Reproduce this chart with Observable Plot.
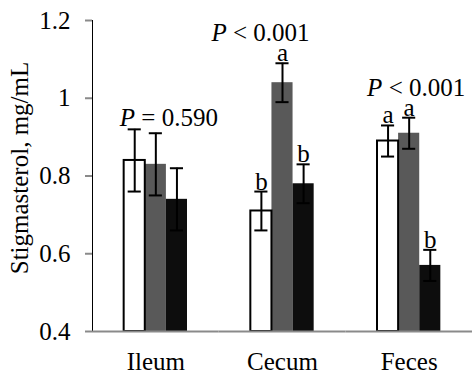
<!DOCTYPE html>
<html>
<head>
<meta charset="utf-8">
<script src="https://cdn.jsdelivr.net/npm/d3@7"></script>
<script src="https://cdn.jsdelivr.net/npm/@observablehq/plot@0.6"></script>
<style>
  html, body { margin: 0; padding: 0; background: #fff; }
</style>
</head>
<body>
<div id="chart"></div>
<script>
// ---- data ----
const sites = ["Ileum", "Cecum", "Feces"];
const treatments = ["Treatment 1", "Treatment 2", "Treatment 3"];
const ileumMeans = [0.84, 0.83, 0.74];
const cecumMeans = [0.71, 1.04, 0.78];
const fecesMeans = [0.89, 0.91, 0.57];
const ileumSE = [0.08, 0.08, 0.08];
const cecumSE = [0.05, 0.05, 0.05];
const fecesSE = [0.04, 0.04, 0.04];
const ileumLetters = ["", "", ""];
const cecumLetters = ["b", "a", "b"];
const fecesLetters = ["a", "a", "b"];
const pLabels = ["P = 0.590", "P < 0.001", "P < 0.001"];
const yTicks = [0.4, 0.6, 0.8, 1, 1.2];
const yLabel = "Stigmasterol, mg/mL";

// ---- styling ----
const barColors = ["#ffffff", "#595959", "#0d0d0d"];
const axisGray = "#8a8a8a";
const pDx = [13, -22, 7];

// ---- table ----
const meansBy = [ileumMeans, cecumMeans, fecesMeans];
const seBy = [ileumSE, cecumSE, fecesSE];
const lettersBy = [ileumLetters, cecumLetters, fecesLetters];
const rows = sites.flatMap((s, i) => treatments.map((t, j) => ({
  site: s, trt: t, mean: meansBy[i][j], se: seBy[i][j], letter: lettersBy[i][j]
})));
const pRows = sites.map((s, i) => ({
  site: s,
  label: pLabels[i],
  top: d3.max(meansBy[i].map((m, j) => m + seBy[i][j])),
  hasLetters: lettersBy[i].some(l => l)
}));

const pMarks = pRows.map((d, i) => Plot.text([d], {
  fx: "site",
  y: r => r.top + (r.hasLetters ? 0.077 : 0.028),
  text: "label",
  dx: pDx[i],
  fontSize: 25
}));

const chart = Plot.plot({
  width: 472,
  height: 378,
  marginLeft: 92,
  marginRight: 0,
  marginTop: 20,
  marginBottom: 47,
  style: { fontFamily: "'Liberation Serif', 'Times New Roman', serif", fontSize: "25px", background: "#fff", color: "#000" },
  fx: { domain: sites, padding: 0, round: false, axis: "bottom", label: null, tickSize: 0, tickPadding: 21 },
  x: { domain: treatments, paddingInner: 0, paddingOuter: 1.5, round: false, axis: null },
  y: { domain: [0.4, 1.2], ticks: yTicks, tickFormat: d => String(d), tickSize: 7, tickPadding: 15, line: true,
       label: yLabel, labelArrow: "none", labelAnchor: "center", labelOffset: 82 },
  color: { domain: treatments, range: barColors },
  marks: [
    Plot.barY(rows, { fx: "site", x: "trt", y1: 0.4, y2: "mean", fill: "trt" }),
    Plot.barY(rows.filter(d => d.trt === treatments[0]), { fx: "site", x: "trt", y1: 0.4, y2: "mean", fill: "#fff", stroke: "#000", strokeWidth: 2 }),
    Plot.ruleX(rows, { fx: "site", x: "trt", y1: d => d.mean - d.se, y2: d => d.mean + d.se, stroke: "#000", strokeWidth: 2 }),
    Plot.tickY(rows, { fx: "site", x: "trt", y: d => d.mean + d.se, stroke: "#000", strokeWidth: 2, inset: 4 }),
    Plot.tickY(rows, { fx: "site", x: "trt", y: d => d.mean - d.se, stroke: "#000", strokeWidth: 2, inset: 4 }),
    Plot.ruleY([0.4], { stroke: axisGray, strokeWidth: 2 }),
    Plot.text(rows.filter(d => d.letter), { fx: "site", x: "trt", y: d => d.mean + d.se, text: "letter", lineAnchor: "bottom", dy: -2, fontSize: 25 }),
    ...pMarks
  ]
});

document.getElementById("chart").appendChild(chart);

// ---- post-processing: gray axis strokes, italic P, label nudge ----
const svg = chart.tagName.toLowerCase() === "svg" ? chart : chart.querySelector("svg");
svg.querySelectorAll("g[aria-label]").forEach(g => {
  const lbl = g.getAttribute("aria-label");
  if (/^(y|fx)-axis/.test(lbl) && !/label/.test(lbl)) {
    if (g.hasAttribute("stroke")) g.setAttribute("stroke", axisGray);
    g.setAttribute("stroke-width", "2");
    g.querySelectorAll("line, path").forEach(p => { p.setAttribute("stroke", axisGray); p.setAttribute("stroke-width", "2"); });
  }
});
svg.querySelectorAll("text").forEach(t => {
  const s = t.textContent;
  if (s.includes(yLabel)) {
    if (s !== yLabel && t.children.length === 0) t.textContent = yLabel;
    t.setAttribute("dx", "8");
  }
  if (/^P [=<]/.test(s) && t.children.length === 0) {
    t.textContent = "";
    const ts = document.createElementNS("http://www.w3.org/2000/svg", "tspan");
    ts.setAttribute("font-style", "italic");
    ts.textContent = "P";
    t.appendChild(ts);
    t.appendChild(document.createTextNode(s.slice(1)));
  }
});
</script>
</body>
</html>
